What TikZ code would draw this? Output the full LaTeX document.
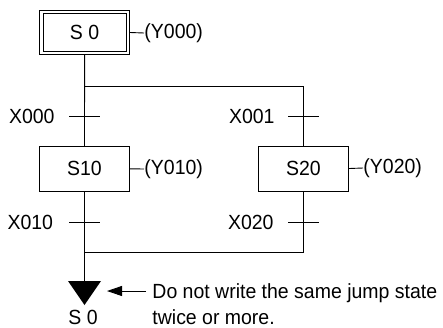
\documentclass[tikz,border=0pt]{standalone}
\usepackage{fontspec}
\setmainfont[FakeStretch=0.95]{Liberation Sans}
\usetikzlibrary{arrows.meta}
\begin{document}
\begin{tikzpicture}[x=1pt,y=-1pt,line width=0.9pt,
  every node/.style={font=\fontsize{20.5}{26}\selectfont,inner sep=0pt},
  statebox/.style={draw,minimum width=90.5pt,minimum height=45pt},
  initbox/.style={draw,double,double distance=2.6pt,minimum width=86.5pt,minimum height=40.7pt,outer sep=2.2pt},
  tickline/.style={line width=0.9pt},
  outlabel/.style={anchor=west}]
\useasboundingbox (0,0) rectangle (443,327);
% states
\node[initbox] (s0) at (84.6,32.5) {S 0};
\node[statebox] (s10) at (84.5,168.8) {S10};
\node[statebox] (s20) at (303.5,168.5) {S20};
% outputs
\node[outlabel] (y000) at (144,33) {(Y000)};
\draw (s0.east) -- (y000.west);
\node[outlabel] (y010) at (144,169) {(Y010)};
\draw (s10.east) -- (y010.west);
\node[outlabel] (y020) at (363,168) {(Y020)};
\draw (s20.east) -- (y020.west);
% branch coordinates
\coordinate (br1) at (84.5,86);
\coordinate (br1r) at (303.5,86);
\coordinate (jn) at (84.5,252);
\coordinate (jnr) at (303.5,252);
\coordinate (tri) at (84.5,281);
% connectors
\draw (s0.south) -- (s10.north);
\draw (br1) -- (br1r) -- (s20.north);
\draw (s10.south) -- (tri);
\draw (s20.south) -- (jnr) -- (jn);
% transition ticks
\coordinate (t1) at (84.5,116);
\coordinate (t2) at (303.5,116);
\coordinate (t3) at (84.5,222);
\coordinate (t4) at (303.5,222);
\foreach \t in {t1,t2,t3,t4}
  \draw[tickline] ([xshift=-15.5pt]\t) -- ([xshift=15pt]\t);
\node[anchor=east] (x000) at (55,116) {X000};
\node[anchor=east] (x001) at (275,116) {X001};
\node[anchor=east] (x010) at (53.5,222) {X010};
\node[anchor=east] (x020) at (274,222) {X020};
% jump triangle
\fill (tri) -- ++(16.5,0) -- ++(-16.5,24) -- ++(-16.5,-24) -- cycle;
\node (js0) at (83,317) {S 0};
% note
\node[anchor=north west,align=left] (note) at (152,283) {Do not write the same jump state\\twice or more.};
\coordinate (arrs) at (146,291);
\coordinate (arre) at (107,291);
\draw[-{Triangle[length=15pt,width=10pt]}] (arrs) -- (arre);
\end{tikzpicture}
\end{document}
